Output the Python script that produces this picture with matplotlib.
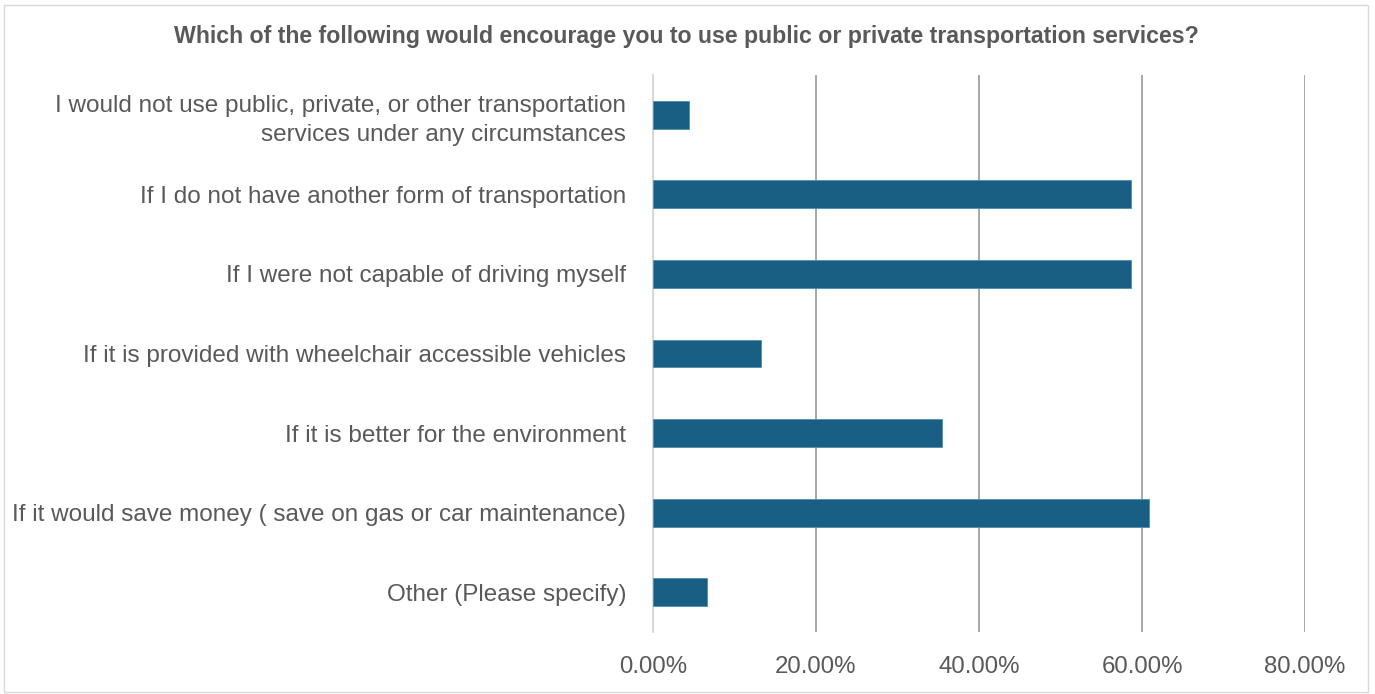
import matplotlib.pyplot as plt
from matplotlib.patches import Rectangle
from matplotlib.ticker import FuncFormatter

categories = [
    "I would not use public, private, or other transportation\nservices under any circumstances",
    "If I do not have another form of transportation",
    "If I were not capable of driving myself",
    "If it is provided with wheelchair accessible vehicles",
    "If it is better for the environment",
    "If it would save money ( save on gas or car maintenance)",
    "Other (Please specify)",
]
shares = [4.4, 58.6, 58.6, 13.3, 35.5, 60.8, 6.6]
xticks = [0, 20, 40, 60, 80]
title = "Which of the following would encourage you to use public or private transportation services?"

text_col = "#595959"
bar_col = "#195e83"

plt.rcParams['font.family'] = ['Liberation Sans', 'DejaVu Sans']

fig = plt.figure(figsize=(13.75, 6.94), dpi=100)
ax = fig.add_axes([0.4747, 0.0893, 0.4745, 0.8027])

y = list(range(len(categories)))
ax.barh(y, shares, height=0.35, color=bar_col, edgecolor="#4f8db0", linewidth=0.6, zorder=3)
ax.set_ylim(len(categories) - 0.5, -0.5)
ax.set_xlim(0, 80)

ax.set_xticks(xticks)
ax.xaxis.set_major_formatter(FuncFormatter(lambda v, p: f"{v:.2f}%"))
ax.set_yticks(y)
ax.set_yticklabels(categories, fontsize=17.5, color=text_col, linespacing=1.4)
ax.tick_params(axis='x', labelsize=17.3, colors=text_col, length=0, pad=17)
ax.tick_params(axis='y', length=0, pad=19)
for lbl in ax.get_yticklabels():
    lbl.set_horizontalalignment('right')

ax.grid(axis='x', color="#a0a0a0", linewidth=1.3, zorder=0)
ax.set_axisbelow(True)
for s in ['top', 'right', 'bottom']:
    ax.spines[s].set_visible(False)
ax.spines['left'].set_color("#d9d9d9")
ax.spines['left'].set_linewidth(1.3)

fig.text(0.499, 0.948, title, ha='center', va='center', fontsize=16.7,
         fontweight='bold', color=text_col)

fig.patches.append(Rectangle((0.003, 0.003), 0.992, 0.99, transform=fig.transFigure,
                             fill=False, edgecolor="#d9d9d9", linewidth=1))

fig.savefig("out.png", dpi=100, facecolor="white")
